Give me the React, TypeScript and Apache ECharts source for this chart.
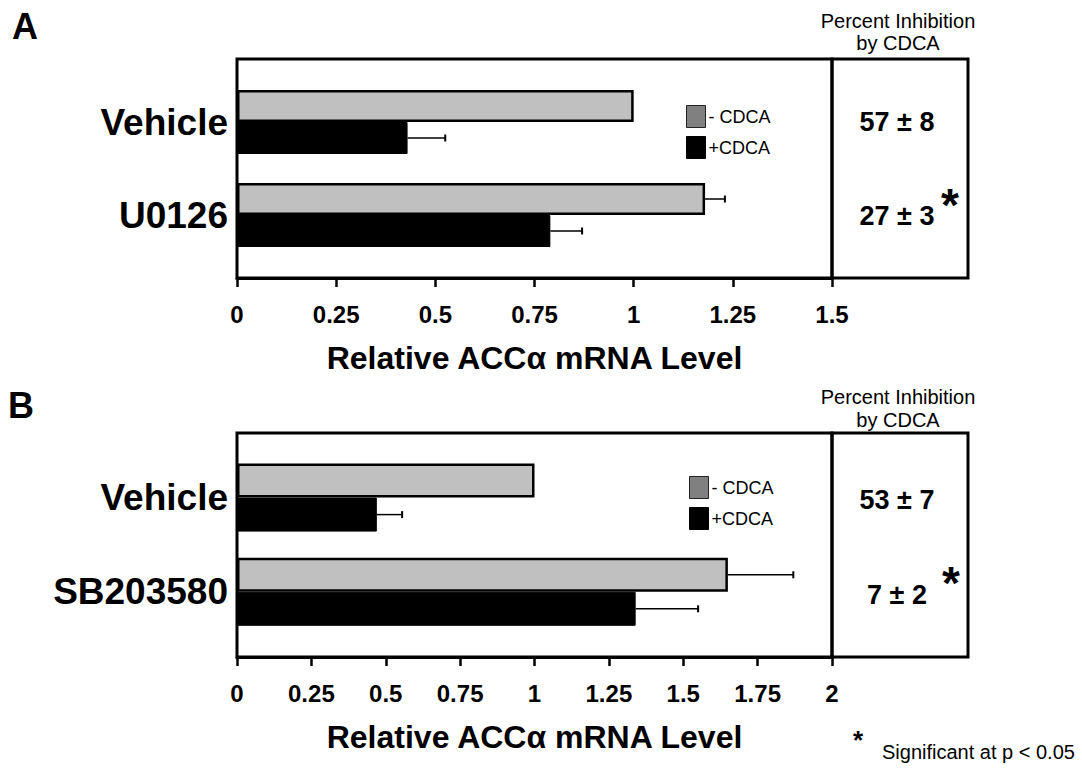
import React, { useEffect, useRef } from "react";
import * as echarts from "echarts";

// ---------- data ----------
const categoriesA = ["Vehicle", "U0126"];
const minusA = [1.0, 1.18];
const minusErrA = [0, 0.05];
const plusA = [0.43, 0.79];
const plusErrA = [0.095, 0.08];
const ticksA = [0, 0.25, 0.5, 0.75, 1, 1.25, 1.5];
const inhibitionA = ["57 ± 8", "27 ± 3"];
const significantA = [false, true];

const categoriesB = ["Vehicle", "SB203580"];
const minusB = [1.0, 1.65];
const minusErrB = [0, 0.22];
const plusB = [0.47, 1.34];
const plusErrB = [0.085, 0.21];
const ticksB = [0, 0.25, 0.5, 0.75, 1, 1.25, 1.5, 1.75, 2];
const inhibitionB = ["53 ± 7", "7 ± 2"];
const significantB = [false, true];

const seriesNames = ["- CDCA", "+CDCA"];
const axisTitle = "Relative ACCα mRNA Level";
const sideTitle = ["Percent Inhibition", "by CDCA"];
const footnote = "Significant at p < 0.05";

const FONT = "'Liberation Sans', Arial, Helvetica, sans-serif";

function errData(means: number[], errs: number[], s: number) {
  const out: number[][] = [];
  means.forEach((m, i) => {
    if (errs[i] > 0) out.push([m, i, errs[i], s]);
  });
  return out;
}

function makeErrRender(barW: number) {
  return (params: any, api: any) => {
    const mean = api.value(0);
    const cat = api.value(1);
    const err = api.value(2);
    const s = api.value(3);
    const p0 = api.coord([mean, cat]);
    const p1 = api.coord([mean + err, cat]);
    const y = p0[1] + (s === 0 ? -barW / 2 : barW / 2);
    const cap = 3.5;
    return {
      type: "group",
      children: [
        { type: "line", shape: { x1: p0[0], y1: y, x2: p1[0], y2: y }, style: { stroke: "#000", lineWidth: 1.5 } },
        { type: "line", shape: { x1: p1[0], y1: y - cap, x2: p1[0], y2: y + cap }, style: { stroke: "#000", lineWidth: 2 } },
      ],
    };
  };
}

export default function App() {
  const ref = useRef<HTMLDivElement>(null);
  useEffect(() => {
    if (!ref.current) return;
    const chart = echarts.init(ref.current, null, { renderer: "svg" });

    const PL = 237; // plot left
    const PW = 595; // plot width
    const panels = [
      { frameTop: 59, frameH: 219, barTop: 75.5, barH: 186, barW: 32, ticks: ticksA, cats: categoriesA,
        minus: minusA, minusErr: minusErrA, plus: plusA, plusErr: plusErrA, legTop: 100, legLeft: 681 },
      { frameTop: 433, frameH: 224, barTop: 450.5, barH: 188.4, barW: 34, ticks: ticksB, cats: categoriesB,
        minus: minusB, minusErr: minusErrB, plus: plusB, plusErr: plusErrB, legTop: 471, legLeft: 684 },
    ];

    const grid: any[] = [];
    const xAxis: any[] = [];
    const yAxis: any[] = [];
    const series: any[] = [];
    const legend: any[] = [];

    panels.forEach((p, k) => {
      const gFrame = k * 2;
      const gBars = k * 2 + 1;
      const tmin = p.ticks[0];
      const tmax = p.ticks[p.ticks.length - 1];
      const tint = p.ticks[1] - p.ticks[0];
      grid.push({ left: PL, top: p.frameTop, width: PW, height: p.frameH, show: true, borderColor: "#000", borderWidth: 3, backgroundColor: "transparent" });
      grid.push({ left: PL, top: p.barTop, width: PW, height: p.barH });
      xAxis.push({
        type: "value", gridIndex: gFrame, min: tmin, max: tmax, interval: tint,
        axisLine: { show: true, lineStyle: { color: "#000", width: 3 } },
        axisTick: { show: true, length: 9, lineStyle: { color: "#000", width: 2.5 } },
        splitLine: { show: false },
        axisLabel: { color: "#000", fontFamily: FONT, fontWeight: "bold", fontSize: 24, margin: 24 },
        name: axisTitle, nameLocation: "middle", nameGap: 64,
        nameTextStyle: { color: "#000", fontFamily: FONT, fontWeight: "bold", fontSize: 32 },
      });
      xAxis.push({ type: "value", gridIndex: gBars, min: tmin, max: tmax, show: false, splitLine: { show: false } });
      yAxis.push({ type: "value", gridIndex: gFrame, show: false, splitLine: { show: false } });
      yAxis.push({
        type: "category", gridIndex: gBars, data: p.cats, inverse: true,
        axisLine: { show: false }, axisTick: { show: false },
        axisLabel: { color: "#000", fontFamily: FONT, fontWeight: "bold", fontSize: 37, margin: 9 },
      });
      series.push({
        name: seriesNames[0], type: "bar", xAxisIndex: gBars, yAxisIndex: gBars, data: p.minus,
        barWidth: p.barW, barGap: "0%",
        itemStyle: { color: "#C0C0C0", borderColor: "#000", borderWidth: 2.5 },
      });
      series.push({
        name: seriesNames[1], type: "bar", xAxisIndex: gBars, yAxisIndex: gBars, data: p.plus,
        barWidth: p.barW, barGap: "0%",
        itemStyle: { color: "#000", borderColor: "#000", borderWidth: 1 },
      });
      series.push({
        type: "custom", xAxisIndex: gBars, yAxisIndex: gBars, renderItem: makeErrRender(p.barW),
        data: [...errData(p.minus, p.minusErr, 0), ...errData(p.plus, p.plusErr, 1)],
        encode: { x: 0, y: 1 }, z: 5, silent: true,
      });
      legend.push({
        left: p.legLeft, top: p.legTop, orient: "vertical", itemWidth: 19, itemHeight: 22, itemGap: 8,
        icon: "rect", selectedMode: false,
        textStyle: { color: "#000", fontFamily: FONT, fontSize: 18, padding: [0, 0, 0, -2] },
        data: [
          { name: seriesNames[0], itemStyle: { color: "#808080", borderColor: "#222", borderWidth: 1 } },
          { name: seriesNames[1], itemStyle: { color: "#000", borderColor: "#000", borderWidth: 1 } },
        ],
      });
    });

    const sideX = 897;
    const graphic: any[] = [];
    const labelStyle = (size: number, weight: string) => ({ fill: "#000", font: `${weight} ${size}px ${FONT}` });
    graphic.push({ type: "text", left: 12, top: 8, style: { text: "A", ...labelStyle(36, "bold") } });
    graphic.push({ type: "text", left: 8, top: 387, style: { text: "B", ...labelStyle(36, "bold") } });

    const sideRows = [
      { top: 59, h: 219, titleY: [21, 43], rows: [122, 216], star: [950, 205], texts: inhibitionA, sig: significantA },
      { top: 433, h: 224, titleY: [397, 420], rows: [500, 595], star: [951, 583], texts: inhibitionB, sig: significantB },
    ];
    sideRows.forEach((s) => {
      graphic.push({ type: "rect", shape: { x: 832, y: s.top, width: 136, height: s.h }, style: { fill: "none", stroke: "#000", lineWidth: 3 } });
      sideTitle.forEach((t, i) => {
        graphic.push({ type: "text", x: 898, y: s.titleY[i], style: { text: t, textAlign: "center", textVerticalAlign: "middle", ...labelStyle(20, "normal") } });
      });
      s.texts.forEach((t, i) => {
        graphic.push({ type: "text", x: sideX, y: s.rows[i], style: { text: t, textAlign: "center", textVerticalAlign: "middle", ...labelStyle(27, "bold") } });
        if (s.sig[i]) {
          graphic.push({ type: "text", x: s.star[0], y: s.star[1], style: { text: "*", textAlign: "center", textVerticalAlign: "middle", ...labelStyle(46, "bold") } });
        }
      });
    });
    graphic.push({ type: "text", x: 858, y: 740, style: { text: "*", textAlign: "center", textVerticalAlign: "middle", ...labelStyle(26, "bold") } });
    graphic.push({ type: "text", x: 882, y: 752, style: { text: footnote, textAlign: "left", textVerticalAlign: "middle", ...labelStyle(20, "normal") } });

    chart.setOption({
      animation: false,
      backgroundColor: "#fff",
      textStyle: { fontFamily: FONT },
      grid, xAxis, yAxis, series, legend, graphic,
    });
    return () => chart.dispose();
  }, []);
  return <div ref={ref} style={{ position: "fixed", left: 0, top: 0, width: 1082, height: 770 }} />;
}
